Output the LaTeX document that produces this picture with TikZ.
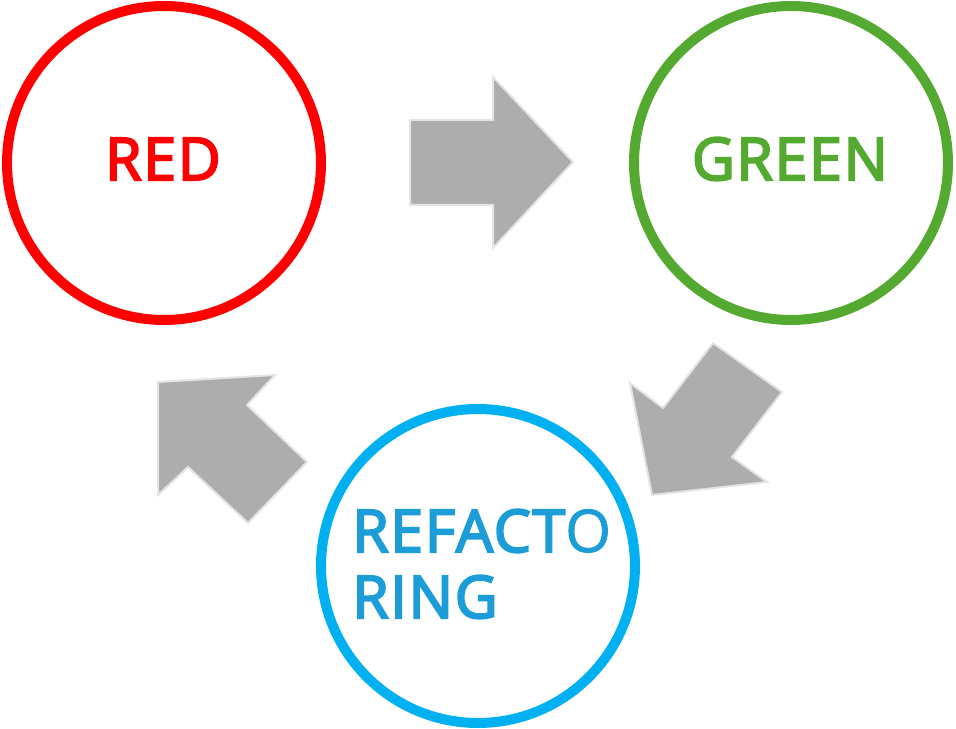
\documentclass[tikz,border=0pt]{standalone}
\usepackage{fontspec}
\setmainfont{Open Sans}
\newfontfamily\labelfont{Open Sans}[FakeBold=3.5, LetterSpace=3]
\newfontfamily\thinfont{Open Sans}[FakeBold=1.5]
\usepackage{tikz}

\definecolor{ringred}{RGB}{255,0,0}
\definecolor{ringgreen}{RGB}{84,170,48}
\definecolor{ringblue}{RGB}{0,176,240}
\definecolor{textblue}{RGB}{28,157,215}
\definecolor{arrowgray}{RGB}{173,173,173}
\definecolor{arrowedge}{RGB}{228,228,228}

\begin{document}
\begin{tikzpicture}[x=0.02cm, y=-0.02cm,
	ring/.style={draw=#1, circle, line width=0.2cm, minimum size=6.28cm, inner sep=0pt},
	blockarrow/.style={fill=arrowgray, draw=arrowedge, line width=0.04cm, line join=miter},
	lbl/.style={font=\fontsize{33.5}{40}\selectfont\labelfont, inner sep=0pt}]
\useasboundingbox (0,0) rectangle (956,729);
\node[ring=ringred](red) at (164,163) {};
\node[ring=ringgreen](green) at (791,163) {};
\node[ring=ringblue](refac) at (478,566) {};
\node[lbl, ringred, anchor=base](redtext) at (163,180) {RED};
\node[lbl, ringgreen, anchor=base](greentext) at (790,180) {GREEN};
\node[lbl, textblue, anchor=base west](refactext) at (352,552) {REFACT{\thinfont O}};
\node[lbl, textblue, anchor=base west](ringtext) at (352,618) {RING};
\filldraw[blockarrow] (410,120) -- (493,120) -- (493,77) -- (573,162) -- (493,248) -- (493,205) -- (410,205) -- cycle;
\filldraw[blockarrow] (713,343) -- (782,392) -- (732,457) -- (767,482) -- (652,495) -- (630,383) -- (663,408) -- cycle;
\filldraw[blockarrow] (158,382) -- (275,375) -- (247,405) -- (307,462) -- (248,523) -- (188,467) -- (158,495) -- cycle;
\end{tikzpicture}
\end{document}
